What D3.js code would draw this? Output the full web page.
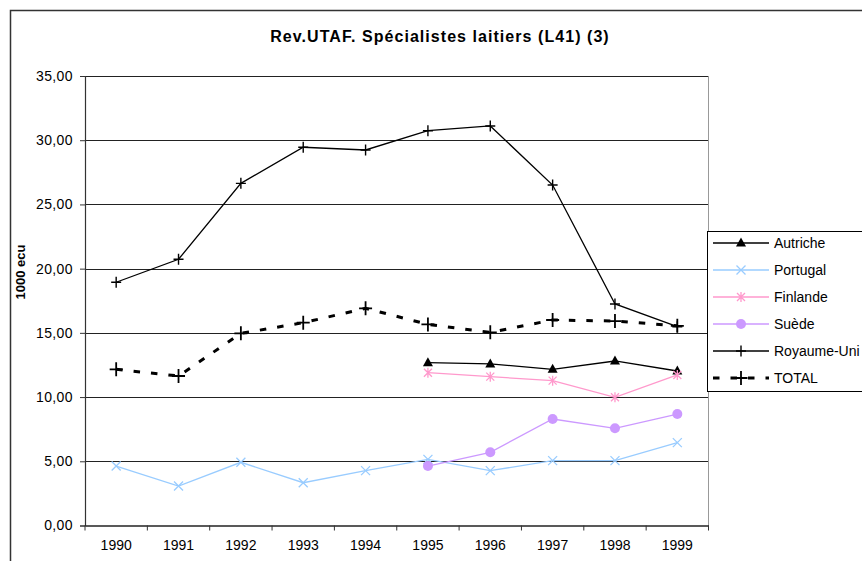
<!DOCTYPE html>
<html>
<head>
<meta charset="utf-8">
<script src="https://cdn.jsdelivr.net/npm/d3@7"></script>
<style>
  html, body { margin: 0; padding: 0; background: #fff; }
  svg { display: block; font-family: Arial, "Liberation Sans", sans-serif; }
</style>
</head>
<body>
<svg id="chart" width="862" height="561"></svg>
<script>
// Revenu par UTAF, spécialistes laitiers (1000 ecu)
const years = ["1990", "1991", "1992", "1993", "1994", "1995", "1996", "1997", "1998", "1999"];
const yTicks = [0, 5, 10, 15, 20, 25, 30, 35];

const autriche   = [null, null, null, null, null, 12.68, 12.58, 12.16, 12.81, 12.03];
const portugal   = [4.63, 3.07, 4.92, 3.33, 4.27, 5.15, 4.27, 5.05, 5.05, 6.45];
const finlande   = [null, null, null, null, null, 11.90, 11.59, 11.28, 9.98, 11.72];
const suede      = [null, null, null, null, null, 4.63, 5.70, 8.29, 7.57, 8.68];
const royaumeUni = [18.94, 20.73, 26.64, 29.45, 29.24, 30.74, 31.11, 26.51, 17.25, 15.48];
const total      = [12.16, 11.64, 14.96, 15.79, 16.91, 15.66, 15.04, 16.00, 15.92, 15.55];

const seriesNames = ["Autriche", "Portugal", "Finlande", "Suède", "Royaume-Uni", "TOTAL"];
const seriesValues = [autriche, portugal, finlande, suede, royaumeUni, total];

const styles = {
  "Autriche":    { color: "#000000", width: 1.3, dash: null,       marker: "triangle" },
  "Portugal":    { color: "#99ccff", width: 1.3, dash: null,       marker: "cross" },
  "Finlande":    { color: "#ff99cc", width: 1.3, dash: null,       marker: "asterisk" },
  "Suède":       { color: "#cc99ff", width: 1.3, dash: null,       marker: "circle" },
  "Royaume-Uni": { color: "#000000", width: 1.3, dash: null,       marker: "plus" },
  "TOTAL":       { color: "#000000", width: 3,   dash: "6.5,11",   marker: "bigplus" }
};

const svg = d3.select("#chart");

// Outer frame of the chart
svg.append("rect")
  .attr("x", 10.5).attr("y", 10.5)
  .attr("width", 900).attr("height", 600)
  .attr("fill", "none").attr("stroke", "#333").attr("stroke-width", 1.5);

// Title
svg.append("text")
  .attr("x", 440).attr("y", 42)
  .attr("text-anchor", "middle")
  .attr("font-size", 16).attr("font-weight", "bold")
  .attr("letter-spacing", 1.05)
  .text("Rev.UTAF. Spécialistes laitiers (L41) (3)");

const plot = { left: 85, right: 708.5, top: 76, bottom: 525.5 };

const x = d3.scaleBand().domain(years).range([plot.left, plot.right]).paddingInner(0).paddingOuter(0);
const y = d3.scaleLinear().domain([0, 35]).range([plot.bottom, plot.top]);
const cx = d => x(d) + x.bandwidth() / 2;

// Horizontal gridlines
svg.append("g")
  .selectAll("line")
  .data(yTicks.filter(d => d > 0))
  .join("line")
  .attr("x1", plot.left).attr("x2", plot.right)
  .attr("y1", d => Math.round(y(d)) + 0.5).attr("y2", d => Math.round(y(d)) + 0.5)
  .attr("stroke", "#222").attr("stroke-width", 1);

// Right edge of the plot area
svg.append("line")
  .attr("x1", plot.right).attr("x2", plot.right)
  .attr("y1", plot.top).attr("y2", plot.bottom)
  .attr("stroke", "#999").attr("stroke-width", 1);

// Y axis
const yAxis = svg.append("g")
  .attr("transform", `translate(${plot.left},0)`)
  .call(d3.axisLeft(y).tickValues(yTicks).tickSize(5).tickPadding(7)
    .tickFormat(d => d.toFixed(2).replace(".", ",")));
yAxis.select(".domain").attr("stroke", "#333").attr("stroke-width", 1.2);
yAxis.selectAll(".tick line").attr("stroke", "#333");
yAxis.selectAll(".tick text")
  .attr("font-size", 14).attr("font-family", "Arial, 'Liberation Sans', sans-serif")
  .attr("fill", "#000").attr("letter-spacing", 0.4);

// X axis: labels centred in categories, ticks on category boundaries
const xAxis = svg.append("g")
  .attr("transform", `translate(0,${plot.bottom})`)
  .call(d3.axisBottom(x).tickSize(0).tickPadding(15));
xAxis.select(".domain").attr("stroke", "#222").attr("stroke-width", 1.5);
xAxis.selectAll(".tick text")
  .attr("font-size", 14).attr("font-family", "Arial, 'Liberation Sans', sans-serif")
  .attr("fill", "#000");
const bounds = years.map(d => x(d)).concat([x(years[years.length - 1]) + x.bandwidth()]);
xAxis.append("g").selectAll("line")
  .data(bounds)
  .join("line")
  .attr("x1", d => d).attr("x2", d => d)
  .attr("y1", 0).attr("y2", 5)
  .attr("stroke", "#333");

// Y axis title
svg.append("text")
  .attr("transform", "translate(25,272) rotate(-90)")
  .attr("text-anchor", "middle")
  .attr("font-size", 13).attr("font-weight", "bold")
  .text("1000 ecu");

// Marker drawing
function drawMarker(g, type, color) {
  switch (type) {
    case "triangle":
      g.append("path").attr("d", "M0,-5.5L5,3.5L-5,3.5Z").attr("fill", color);
      break;
    case "cross":
      g.append("path").attr("d", "M-4.5,-4.5L4.5,4.5M-4.5,4.5L4.5,-4.5")
        .attr("stroke", color).attr("stroke-width", 1.3).attr("fill", "none");
      break;
    case "asterisk":
      g.append("path").attr("d", "M-4,-4L4,4M-4,4L4,-4M0,-5L0,5")
        .attr("stroke", color).attr("stroke-width", 1.3).attr("fill", "none");
      break;
    case "circle":
      g.append("circle").attr("r", 5).attr("fill", color);
      break;
    case "plus":
      g.append("path").attr("d", "M-5,0L5,0M0,-5.5L0,5.5")
        .attr("stroke", color).attr("stroke-width", 1.4).attr("fill", "none");
      break;
    case "bigplus":
      g.append("path").attr("d", "M-6.5,0L6.5,0M0,-7L0,7")
        .attr("stroke", color).attr("stroke-width", 1.8).attr("fill", "none");
      break;
  }
}

const line = d3.line()
  .defined(d => d.v !== null)
  .x(d => cx(d.year))
  .y(d => y(d.v));

// Series: lines first, then markers
seriesNames.forEach((name, i) => {
  const st = styles[name];
  const pts = years.map((yr, j) => ({ year: yr, v: seriesValues[i][j] }));
  const g = svg.append("g").attr("class", "series");
  g.append("path")
    .datum(pts)
    .attr("d", line)
    .attr("fill", "none")
    .attr("stroke", st.color)
    .attr("stroke-width", st.width)
    .attr("stroke-dasharray", st.dash);
  pts.filter(p => p.v !== null).forEach(p => {
    const m = g.append("g").attr("transform", `translate(${cx(p.year)},${y(p.v)})`);
    drawMarker(m, st.marker, st.color);
  });
});

// Legend
const legend = svg.append("g");
legend.append("rect")
  .attr("x", 707.5).attr("y", 231.5)
  .attr("width", 200).attr("height", 160)
  .attr("fill", "#fff").attr("stroke", "#000").attr("stroke-width", 1);

seriesNames.forEach((name, i) => {
  const st = styles[name];
  const ly = 243 + i * 27;
  const item = legend.append("g");
  item.append("line")
    .attr("x1", 713).attr("x2", 769)
    .attr("y1", ly).attr("y2", ly)
    .attr("stroke", st.color)
    .attr("stroke-width", st.width)
    .attr("stroke-dasharray", st.dash);
  const m = item.append("g").attr("transform", `translate(741,${ly})`);
  drawMarker(m, st.marker, st.color);
  item.append("text")
    .attr("x", 774).attr("y", ly + 5)
    .attr("font-size", 14)
    .attr("letter-spacing", 0)
    .text(name);
});
</script>
</body>
</html>
